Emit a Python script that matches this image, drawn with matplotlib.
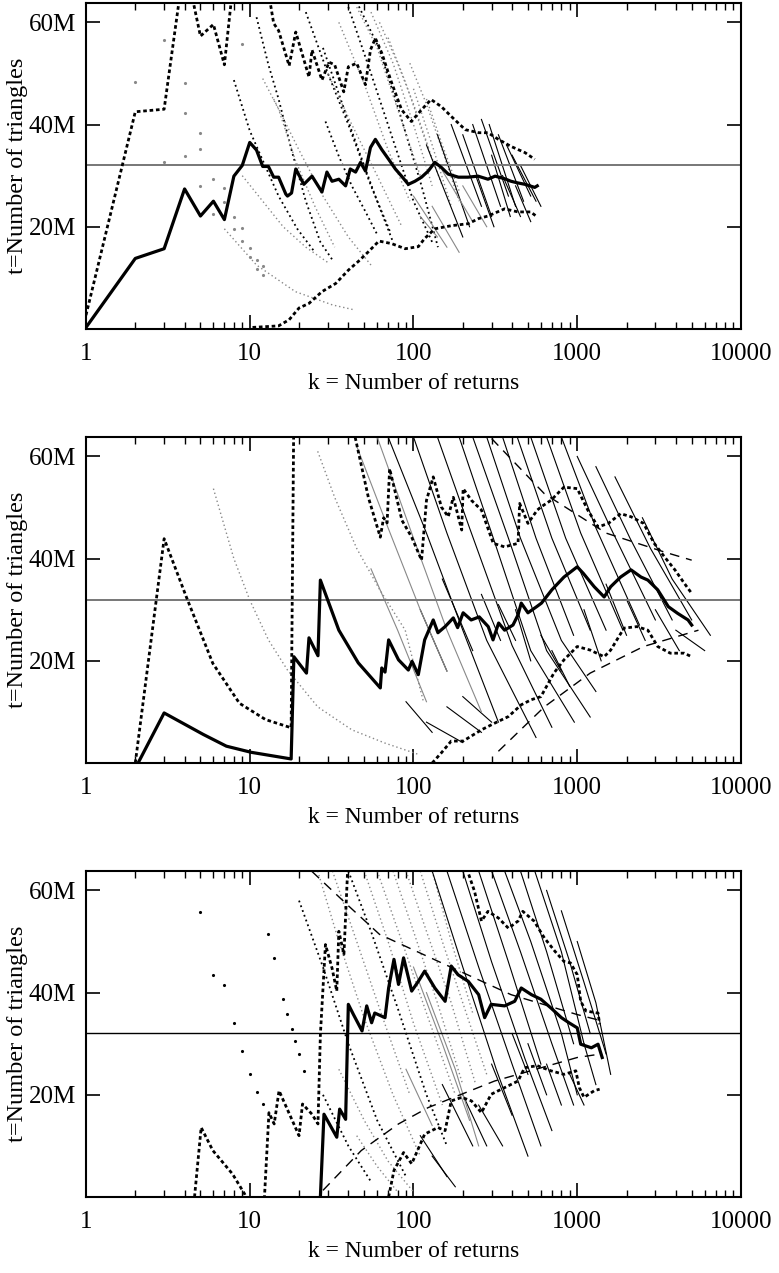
import matplotlib
matplotlib.use("Agg")
import matplotlib.pyplot as plt
from matplotlib.ticker import FixedLocator, LogLocator, NullFormatter

plt.rcParams['font.family'] = ['Liberation Serif', 'DejaVu Serif']

# all t values in millions of triangles
true_t = 32

x_ticks = [1, 10, 100, 1000, 10000]
x_labels = ["1", "10", "100", "1000", "10000"]
y_ticks = [20, 40, 60]
y_labels = ["20M", "40M", "60M"]

# ---------------- panel 1 ----------------
p1_est_k = [1, 2, 3, 4, 5, 6, 7, 8, 9, 10, 11, 12, 13, 14, 15, 16.6, 17, 18, 19.1, 21.4,
            24, 27.6, 29.6, 31.8, 35, 38.5, 41.1, 44.3, 47.5, 50.9, 54.6, 58.5, 64, 70.5, 77.5,
            84.6, 93, 102, 112, 123, 135, 148, 163, 188, 215, 248, 285, 315, 360, 394,
            430, 480, 550, 570]
p1_est_t = [0.3, 13.8, 15.7, 27.4, 22.1, 25, 21.4, 29.9, 32, 36.5, 35, 31.8, 31.8, 29.7, 29.7,
            26.4, 26, 26.6, 31.3, 28.3, 29.9, 26.8, 30.7, 28.9, 29.3, 28, 31.3, 30.7, 32.6, 30.9,
            35.5, 37.1, 35.1, 33.2, 31.3, 29.9, 28.3, 28.9, 29.7, 30.9, 32.6, 31.6, 30.3, 29.7, 29.7,
            29.9, 29.3, 29.9, 29.4, 28.9, 28.6, 28.3, 27.7, 28]
p1_up_k = [1, 2, 3, 4, 5, 6, 7, 8, 13, 14, 15, 17.4, 19.1, 23, 24, 27.6, 30.5, 33, 37.5, 40,
           45, 50.9, 54.6, 58.5, 64, 73.5, 84.6, 97, 112, 128, 148, 170, 207, 250, 285,
           330, 395, 480, 550]
p1_up_t = [2.7, 42.5, 43, 72, 57.3, 59.6, 51.7, 69, 66, 59.8, 58.4, 51.5, 58.1, 49.3, 54.6,
           48.7, 52.2, 51.7, 46.4, 51.3, 52, 47.8, 54.6, 56.9, 54, 48.2, 42.9, 40.6, 42.9, 44.9,
           43.5, 41.6, 39, 38.4, 38.4, 37.1, 35.7, 34.5, 33.2]
p1_lo_k = [10.4, 15, 17.4, 20, 23, 27.6, 33.5, 40, 46, 53, 61.5, 73.5, 89, 107, 117,
           135, 170, 216, 250, 285, 360, 435, 520, 560]
p1_lo_t = [0.3, 0.6, 1.8, 4.1, 5, 7.3, 8.9, 11.5, 13.2, 15.1, 17.2, 16.7, 15.7, 16.1, 17.7,
           19.6, 20.2, 20.6, 21.6, 22.1, 23.5, 22.9, 22.9, 22.1]
p1_pts_k = [2, 3, 3, 4, 4, 4, 5, 5, 5, 6, 6, 7, 7, 8, 8, 9, 9, 10, 10, 11, 11, 12, 12, 9]
p1_pts_t = [48.4, 56.5, 32.6, 48.2, 42.3, 33.8, 38.4, 35.3, 27.9, 29.4, 22.5, 27.6, 24.9,
            22, 19.6, 17.3, 19.8, 15.9, 14, 13.5, 11.8, 12.4, 10.6, 55.8]

p1_bdot_k = [[8, 10, 12, 15, 19.5, 25], [11, 13, 15, 18, 22, 27, 32], [29, 35, 42, 51, 60],
             [28, 35, 45, 60, 75], [22, 30, 40, 55, 72], [45, 61.5, 81, 112, 141],
             [40, 55, 75, 100, 130]]
p1_bdot_t = [[48.7, 38.8, 33, 26, 19.6, 15], [61, 51.7, 45, 35, 25, 17, 13.5], [40.6, 33.8, 28, 22.9, 18.5],
             [55, 46, 36, 25, 17], [62, 50, 40, 28, 19], [64, 55, 43, 28, 16],
             [63, 50, 37, 25, 17]]
p1_gdot_k = [[7, 11, 19, 32, 44], [12, 15, 19, 25, 33], [14, 20, 28, 40, 55], [9, 12, 16, 22, 30],
             [35, 50, 70, 95], [45, 60, 80, 110], [55, 75, 100, 130], [62, 80, 100, 125],
             [70, 90, 115, 150], [95, 120, 150, 190], [100, 130, 170], [120, 150, 190],
             [30, 42, 60, 85]]
p1_gdot_t = [[19.6, 12.5, 7.3, 4.7, 3.7], [49, 43, 33, 24, 16], [45, 35, 26, 18, 12.5], [30, 25, 20, 16, 13],
             [60, 48, 35, 25], [63, 55, 43, 30], [62, 52, 40, 28], [60, 52, 44, 35],
             [57, 48, 38, 28], [52, 44, 35, 25], [47, 36, 24], [45, 36, 27],
             [50, 40, 30, 20]]
p1_bline_k = [[120, 200], [140, 220], [170, 260], [200, 300], [230, 340], [260, 380], [290, 420],
              [330, 470], [370, 520], [400, 560], [450, 600], [300, 390], [240, 310], [350, 450],
              [420, 520]]
p1_bline_t = [[36, 18], [38, 20], [40, 24], [38, 22], [40, 24], [41, 26], [40, 24],
              [38, 25], [36, 26], [34, 25], [32, 24], [34, 22], [30, 20], [30, 22],
              [28, 21]]
p1_gline_k = [[100, 160], [130, 190], [110, 140], [200, 280], [150, 230]]
p1_gline_t = [[26, 16], [24, 15], [22, 18], [28, 20], [31, 21]]

# ---------------- panel 2 ----------------
p2_est_k = [2.08, 3, 5.2, 7.2, 10.2, 17.9, 18.6, 22.2, 23, 26.1, 27, 35, 46, 62.7, 64,
            67, 70.5, 81, 93, 98, 107, 117, 132, 141, 156, 175, 186, 201, 225, 252,
            286, 306, 331, 360, 405, 435, 455, 500, 565, 605, 700, 830, 1000, 1090, 1270,
            1460, 1600, 1840, 2130, 2450, 2700, 3100, 3600, 4100, 4750, 5000]
p2_est_t = [0, 9.8, 5.6, 3.3, 2.1, 0.8, 20.8, 17.6, 24.5, 21, 35.8, 26, 19.6, 14.7, 18.6,
            17.8, 24.1, 20.2, 18.2, 19.9, 17.3, 24.1, 28, 25.5, 26.7, 28.4, 26.5, 29.4, 28, 28.6,
            26.7, 24.1, 27.4, 26, 27, 29, 31.3, 29.4, 30.6, 31.3, 33.9, 36.4, 38.4, 37.1, 34.5,
            32.5, 34.5, 36.4, 37.8, 36.4, 35.8, 33.9, 30.6, 29.3, 28, 27]
p2_up_k = [2, 3, 4.1, 5.95, 8.65, 12.5, 17.9, 18.6, 40, 44, 53, 62.7, 65.7, 69, 71.5,
           85, 97.5, 112, 120, 132, 148, 163, 175, 197, 201, 226, 260, 307, 360, 435,
           445, 500, 570, 600, 690, 830, 1000, 1160, 1340, 1550, 1840, 2130, 2540, 2950, 3400,
           3950, 4500, 5000]
p2_up_t = [0, 43.9, 32.5, 19.5, 11.7, 8.5, 6.9, 70, 70, 63.8, 52, 44.2, 48, 47, 57.6,
           47.5, 44.2, 39.7, 51.4, 56, 50.1, 48.2, 52, 45.6, 53.7, 51.4, 49.5, 43, 42.3, 43,
           50.8, 46.9, 49.5, 50.1, 51.4, 54, 53.7, 49.5, 46.2, 46.9, 48.8, 48.2, 46.9, 43, 40.4,
           37.8, 35.2, 33.2]
p2_lo_k = [130, 148, 170, 201, 260, 313, 380, 455, 525, 600, 720, 830, 1000, 1200, 1460,
           1600, 1930, 2320, 2700, 3100, 3700, 4500, 5000]
p2_lo_t = [0, 2, 4.3, 4.3, 6.5, 7.8, 9.1, 11.4, 12.4, 13, 17.6, 20.2, 22.8, 22.1, 20.8,
           22.1, 26.4, 26.7, 26, 22.8, 21.5, 21.5, 20.8]
p2_pts_k = []
p2_pts_t = []

p2_gdot_k = [[6, 8, 10, 13, 17, 26, 42, 67, 107], [26, 33, 45, 62, 89, 115]]
p2_gdot_t = [[53.7, 40, 31.9, 24.1, 18.2, 11, 6.5, 3.9, 1.7], [61, 52, 42, 34, 26, 12]]
p2_bline_k = [[70, 120, 200, 330], [100, 160, 280, 560], [140, 220, 400, 700], [190, 300, 520, 960],
              [230, 380, 650, 1200], [280, 450, 800, 1300], [350, 560, 950], [430, 700, 1200],
              [520, 850, 1500], [650, 1050, 1900], [800, 1300, 2400], [1000, 1600, 3000],
              [1300, 2100, 3800], [1700, 2800, 5000], [2500, 3800, 6500],
              [110, 160], [150, 230], [90, 130], [200, 300], [260, 340], [330, 420], [420, 520],
              [600, 800], [700, 900], [1100, 1400], [1500, 2000], [2000, 2600], [3000, 4200],
              [4000, 6000], [120, 200], [160, 260]]
p2_bline_t = [[63.8, 45, 26, 8], [63.8, 45, 24, 5], [63.8, 46, 23, 7], [63.8, 45, 22, 8],
              [63.8, 44, 22, 9], [63.8, 44, 24, 14], [63.8, 44, 25], [63.8, 44, 26],
              [63.8, 44, 26], [63.8, 45, 26], [63.8, 46, 27], [60, 46, 28],
              [58, 44, 28], [56, 42, 28], [48, 36, 25],
              [30, 18], [36, 22], [12, 6], [13, 8], [33, 24], [31, 24], [30, 20],
              [25, 18], [22, 15], [30, 20], [35, 25], [32, 24], [30, 22],
              [26, 22], [8, 4], [11, 6]]
p2_gline_k = [[45, 70, 110, 160], [60, 100, 160, 260], [55, 80, 120]]
p2_gline_t = [[62, 46, 30, 18], [63.8, 44, 26, 10], [38, 26, 12]]
p2_dash_k = [[300, 630, 1500, 3400, 5000], [330, 630, 1200, 2540, 5500]]
p2_dash_t = [[63.5, 52.7, 45, 41.3, 39.7], [2.3, 11, 17.6, 22.8, 26]]

# ---------------- panel 3 ----------------
p3_est_k = [27, 28.4, 34, 35.4, 38.5, 40, 43, 48.5, 51.8, 55.5, 58, 67, 70.5, 76, 81,
            87, 97.5, 107, 117, 135, 156, 170, 187, 216, 250, 272, 298, 360, 415, 455,
            525, 600, 690, 800, 890, 1000, 1050, 1220, 1340, 1420]
p3_est_t = [0, 16.2, 11.7, 17.2, 15.2, 37.7, 35.7, 32.5, 37.4, 34.1, 36, 35.1, 40.9, 46.5, 41.6,
            46.8, 40.3, 42.2, 44.2, 40.9, 38.3, 45.2, 43.5, 42.2, 39.6, 35.1, 37.7, 37.4, 38.3, 40.9,
            39.6, 38.7, 37, 35.1, 34.1, 33.1, 29.9, 29.2, 29.9, 27.3]
p3_up_k = [4.6, 5.05, 5.95, 7.85, 9.3, 10, 12, 12.3, 13.1, 14.1, 15.1, 20, 21, 24, 26.1,
           27, 29, 31.8, 34, 35, 37.6, 39.5, 40, 210, 216, 236, 260, 285, 330, 380,
           435, 465, 545, 630, 730, 830, 910, 1000, 1050, 1130, 1340, 1370]
p3_up_t = [0, 13.6, 9.1, 4.5, 0.6, -2, -2, 0, 16.5, 14.3, 20.8, 12, 18.2, 16.2, 14.3,
           31.8, 49.4, 44.8, 40.3, 52, 47.5, 63.1, 70, 70, 63.4, 59.8, 54, 55.9, 54.6, 52.6,
           54, 55.9, 54, 50.7, 48.1, 46.1, 45.8, 43.5, 38.3, 36.4, 36, 33.8]
p3_lo_k = [70.5, 76, 87, 97.5, 117, 141, 156, 170, 197, 226, 260, 298, 360, 435, 477,
           570, 690, 830, 980, 1030, 1100, 1270, 1370]
p3_lo_t = [0, 5.2, 8.7, 6.5, 12.3, 13.6, 13, 18.8, 19.5, 18.8, 16.5, 20.1, 21.4, 22.7, 25.3,
           25.7, 24.7, 24, 24.7, 21.4, 19.5, 20.8, 21.1]
p3_pts_k = [5, 6, 7, 8, 9, 10, 11, 12, 13, 14.1, 16, 16.9, 18.2, 19, 20, 21.5]
p3_pts_t = [55.7, 43.5, 41.5, 34.1, 28.6, 24, 20.6, 18.2, 51.4, 46.7, 38.7, 35.8, 32.9, 30.5, 28, 24.7]

p3_bdot_k = [[20, 28, 40, 60, 90], [40, 55, 80, 120, 160], [28, 40, 55]]
p3_bdot_t = [[58, 45, 30, 15, 4], [63.8, 52, 37, 20, 10], [20, 10, 3]]
p3_gdot_k = [[26, 35, 50, 75, 110], [32, 45, 65, 95], [50, 70, 100, 150], [60, 85, 120, 180],
             [75, 100, 140, 200], [90, 120, 170, 240], [110, 150, 200, 280], [130, 170, 230],
             [35, 50, 70, 100], [45, 60, 80]]
p3_gdot_t = [[63.8, 50, 35, 20, 8], [63.8, 50, 35, 20], [63.8, 50, 34, 18], [63.8, 50, 36, 20],
             [63.8, 52, 38, 22], [63.8, 52, 38, 22], [63.8, 50, 38, 24], [63.8, 50, 36],
             [25, 15, 7, 1], [12, 6, 1]]
p3_bline_k = [[130, 200, 320, 500], [160, 250, 400, 600], [200, 300, 480, 700], [250, 380, 600],
              [300, 450, 700, 950], [360, 520, 800, 1000], [450, 650, 950], [550, 800, 1100],
              [650, 900, 1200], [800, 1100, 1500], [1000, 1300, 1600],
              [150, 230], [200, 280], [250, 350], [110, 160], [130, 180], [300, 400],
              [400, 500], [500, 650], [650, 800], [900, 1100], [1100, 1300]]
p3_bline_t = [[63.8, 45, 25, 8], [63.8, 45, 26, 10], [63.8, 46, 27, 13], [63.8, 46, 26],
              [63.8, 48, 30, 18], [63.8, 50, 32, 20], [63.8, 48, 30], [63.8, 48, 30],
              [60, 46, 32], [56, 42, 28], [50, 38, 24],
              [22, 10], [20, 10], [18, 10], [12, 4], [8, 2], [26, 16],
              [32, 24], [30, 20], [26, 18], [24, 18], [30, 22]]
p3_gline_k = [[100, 150, 220], [120, 180, 250], [90, 130]]
p3_gline_t = [[45, 30, 15], [40, 25, 10], [25, 14]]
p3_dash_k = [[24, 40, 62, 156, 394, 1000, 1400], [28, 48, 81, 123, 313, 1000, 1400]]
p3_dash_t = [[63.7, 57, 51.4, 45.5, 39.6, 35.7, 34.5], [1.3, 9.1, 14.3, 17.5, 22.7, 27.3, 28]]

gray = '#888888'
arc_styles = {
    'bdot': dict(color='black', lw=1.3, ls=(0, (1, 1.8))),
    'gdot': dict(color=gray, lw=1.0, ls=(0, (1, 2))),
    'bline': dict(color='black', lw=0.8, ls='-'),
    'gline': dict(color=gray, lw=0.8, ls='-'),
    'dash': dict(color='black', lw=1.0, ls=(0, (7, 5))),
}

panels = [
    dict(est=(p1_est_k, p1_est_t), up=(p1_up_k, p1_up_t), lo=(p1_lo_k, p1_lo_t),
         pts=(p1_pts_k, p1_pts_t, gray),
         arcs=[('bdot', p1_bdot_k, p1_bdot_t), ('gdot', p1_gdot_k, p1_gdot_t),
               ('bline', p1_bline_k, p1_bline_t), ('gline', p1_gline_k, p1_gline_t)],
         truth=('#777777', 1.4)),
    dict(est=(p2_est_k, p2_est_t), up=(p2_up_k, p2_up_t), lo=(p2_lo_k, p2_lo_t),
         pts=(p2_pts_k, p2_pts_t, gray),
         arcs=[('gdot', p2_gdot_k, p2_gdot_t), ('bline', p2_bline_k, p2_bline_t),
               ('gline', p2_gline_k, p2_gline_t), ('dash', p2_dash_k, p2_dash_t)],
         truth=('#777777', 1.4)),
    dict(est=(p3_est_k, p3_est_t), up=(p3_up_k, p3_up_t), lo=(p3_lo_k, p3_lo_t),
         pts=(p3_pts_k, p3_pts_t, 'black'),
         arcs=[('bdot', p3_bdot_k, p3_bdot_t), ('gdot', p3_gdot_k, p3_gdot_t),
               ('bline', p3_bline_k, p3_bline_t), ('gline', p3_gline_k, p3_gline_t),
               ('dash', p3_dash_k, p3_dash_t)],
         truth=('black', 1.0)),
]

fig = plt.figure(figsize=(7.79, 12.73), dpi=100)
bottoms = [0.7416, 0.4006, 0.0597]
left, width, height = 0.1104, 0.8408, 0.2561

for p, b in zip(panels, bottoms):
    ax = fig.add_axes([left, b, width, height])

    for style, ks, ts in p['arcs']:
        for k, t in zip(ks, ts):
            ax.plot(k, t, **arc_styles[style])

    pk, pt, pc = p['pts']
    if pk:
        ax.plot(pk, pt, ls='none', marker='.', ms=2.5, color=pc)

    ax.axhline(true_t, color=p['truth'][0], lw=p['truth'][1])

    dot = (0, (1.3, 1.0))
    ax.plot(*p['up'], color='black', lw=2.0, ls=dot)
    ax.plot(*p['lo'], color='black', lw=2.0, ls=dot)
    ax.plot(*p['est'], color='black', lw=2.3)

    ax.set_xscale('log')
    ax.set_xlim(1, 10000)
    ax.set_ylim(0, 63.8)
    ax.xaxis.set_major_locator(FixedLocator(x_ticks))
    ax.set_xticklabels(x_labels)
    ax.xaxis.set_minor_locator(LogLocator(base=10, subs=range(2, 10)))
    ax.xaxis.set_minor_formatter(NullFormatter())
    ax.set_yticks(y_ticks)
    ax.set_yticklabels(y_labels)

    ax.tick_params(which='both', direction='in', top=True, right=True, labelsize=18)
    ax.tick_params(which='major', length=10, width=1.2)
    ax.tick_params(which='minor', length=5, width=1.0)
    ax.tick_params(axis='x', pad=10)
    ax.tick_params(axis='y', pad=7)
    for s in ax.spines.values():
        s.set_linewidth(1.5)

    ax.set_xlabel("k = Number of returns", fontsize=17)
    ax.set_ylabel("t=Number of triangles", fontsize=17.5)
    ax.xaxis.set_label_coords(0.5, -0.135)
    ax.yaxis.set_label_coords(-0.088, 0.5)

fig.savefig("out.png", dpi=100)
